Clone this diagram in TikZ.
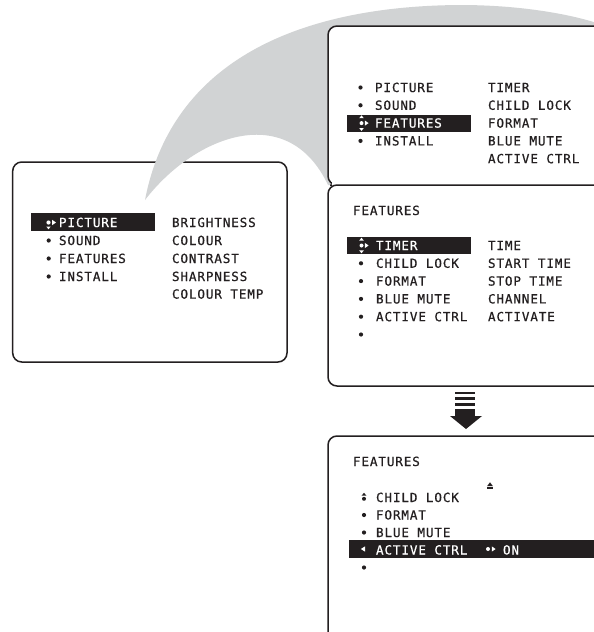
\documentclass[tikz,border=0pt]{standalone}
\usepackage{fontspec}
\newfontfamily\menufont[LetterSpace=7,FakeBold=0.6]{DejaVu Sans Mono}
\newcommand\mnufnt{\menufont\fontsize{12.6}{15}\selectfont}
\definecolor{ink}{RGB}{35,31,32}
\definecolor{swoosh}{RGB}{209,211,212}
\tikzset{
  frame/.style={line width=1.5pt, draw=ink, fill=white, rounded corners=9pt},
  txt/.style={anchor=base west, inner sep=0pt, outer sep=0pt, text=ink, font=\mnufnt},
  wtxt/.style={txt, text=white},
  hbar/.style={fill=ink},
}
\begin{document}
\begin{tikzpicture}[x=1pt,y=-1pt]
\useasboundingbox (0,0) rectangle (594,632);
\clip (0,0) rectangle (594,632);
\fill[white] (0,0) rectangle (594,632);

% ---------- left box ----------
\draw[frame] (12.7,162) rectangle (287,362);

% ---------- grey swoosh ----------
\fill[swoosh] (145,200) .. controls (172,60) and (300,6) .. (460,5)
   .. controls (520,5) and (570,14) .. (600,24) -- (600,200) -- (328,185)
   .. controls (288,100) and (195,135) .. (145,200) -- cycle;

% ---------- top right box ----------
\draw[frame] (610,26) -- (328,26) -- (328,185) -- (330,185);
\fill[white] (332,30) rectangle (600,186);
% ---------- second box ----------
\draw[frame] (610,185) -- (328,185) -- (328,386) -- (610,386);
% ---------- third box ----------
\draw[frame] (610,436) -- (328,436) -- (328,660);

% ================= left box text =================
\fill[hbar] (31,213) rectangle (155,231);
\fill[white] (48.5,222.5) circle (2.1pt);
\fill[white] (52,219.8) -- (56,222.5) -- (52,225.2) -- cycle;
\fill[white] (46.3,226.5) -- (50.7,226.5) -- (48.5,229.3) -- cycle;
\node[wtxt] (lpic) at (59,227) {PICTURE};
\foreach \yy in {240.5,258.5,276.5} \fill[ink] (48.7,\yy) circle (2.1pt);
\node[txt] (lsnd) at (59,245) {SOUND};
\node[txt] (lfea) at (59,263) {FEATURES};
\node[txt] (lins) at (59,281) {INSTALL};
\node[txt] (lbri) at (172,227) {BRIGHTNESS};
\node[txt] (lcol) at (172,245) {COLOUR};
\node[txt] (lcon) at (172,263) {CONTRAST};
\node[txt] (lsha) at (172,281) {SHARPNESS};
\node[txt] (ltmp) at (172,298.6) {COLOUR TEMP};

% ================= top right box text =================
\fill[hbar] (347,115) rectangle (471,132);
\foreach \yy in {87.5,105.3,140.9} \fill[ink] (360.5,\yy) circle (2.1pt);
\fill[white] (359.2,118.2) -- (363.8,118.2) -- (361.5,115.3) -- cycle;
\fill[white] (361.5,123.1) circle (2pt);
\fill[white] (359.2,128) -- (363.8,128) -- (361.5,130.9) -- cycle;
\fill[white] (364.8,120.5) -- (368.6,123.1) -- (364.8,125.7) -- cycle;
\node[txt] (tpic) at (375,92) {PICTURE};
\node[txt] (tsnd) at (375,109.8) {SOUND};
\node[wtxt] (tfea) at (375,127.6) {FEATURES};
\node[txt] (tins) at (375,145.4) {INSTALL};
\node[txt] (ttim) at (488,92) {TIMER};
\node[txt] (tchl) at (488,109.8) {CHILD LOCK};
\node[txt] (tfmt) at (488,127.6) {FORMAT};
\node[txt] (tblu) at (488,145.4) {BLUE MUTE};
\node[txt] (tact) at (488,163.2) {ACTIVE CTRL};

% ================= second box text =================
\node[txt] (mtitle) at (353,215) {FEATURES};
\fill[hbar] (347,237) rectangle (471,254);
\fill[white] (359.2,240.6) -- (363.8,240.6) -- (361.5,237.7) -- cycle;
\fill[white] (361.5,245.5) circle (2pt);
\fill[white] (359.2,250.4) -- (363.8,250.4) -- (361.5,253.3) -- cycle;
\fill[white] (364.8,242.9) -- (368.6,245.5) -- (364.8,248.1) -- cycle;
\foreach \yy in {263.3,281.1,298.9,316.7,334.5} \fill[ink] (361,\yy) circle (2.1pt);
\node[wtxt] (mtim) at (376,250) {TIMER};
\node[txt] (mchl) at (376,267.8) {CHILD LOCK};
\node[txt] (mfmt) at (376,285.6) {FORMAT};
\node[txt] (mblu) at (376,303.4) {BLUE MUTE};
\node[txt] (mact) at (376,321.2) {ACTIVE CTRL};
\node[txt] (mtime) at (488,250) {TIME};
\node[txt] (mstart) at (488,267.8) {START TIME};
\node[txt] (mstop) at (488,285.6) {STOP TIME};
\node[txt] (mchan) at (488,303.4) {CHANNEL};
\node[txt] (mactv) at (488,321.2) {ACTIVATE};

% ================= down arrow =================
\fill[ink] (455,392) rectangle (475,394);
\fill[ink] (455,397) rectangle (475,400);
\fill[ink] (455,402.5) rectangle (475,406.2);
\fill[ink] (455,408.5) rectangle (475,416);
\fill[ink] (450,416) -- (482,416) -- (466,429) -- cycle;

% ================= third box text =================
\node[txt] (btitle) at (353,466) {FEATURES};
\fill[ink] (490,482.3) -- (492.8,486) -- (487.2,486) -- cycle;
\fill[ink] (487.2,487.2) rectangle (492.8,488.8);
\fill[ink] (364,492.8) -- (366.4,495.6) -- (361.6,495.6) -- cycle;
\fill[ink] (364,498.8) circle (2pt);
\foreach \yy in {515,532.5,567.5} \fill[ink] (364,\yy) circle (2.1pt);
\node[txt] (bchl) at (376,502) {CHILD LOCK};
\node[txt] (bfmt) at (376,519.5) {FORMAT};
\node[txt] (bblu) at (376,537) {BLUE MUTE};
\fill[hbar] (349,540) rectangle (600,558);
\fill[white] (360.8,549) -- (365,546.4) -- (365,551.6) -- cycle;
\node[wtxt] (bact) at (376,554.5) {ACTIVE CTRL};
\fill[white] (488,549) circle (2pt);
\fill[white] (491.8,546.4) -- (495.6,549) -- (491.8,551.6) -- cycle;
\node[wtxt] (bon) at (503,554.5) {ON};
\end{tikzpicture}
\end{document}
